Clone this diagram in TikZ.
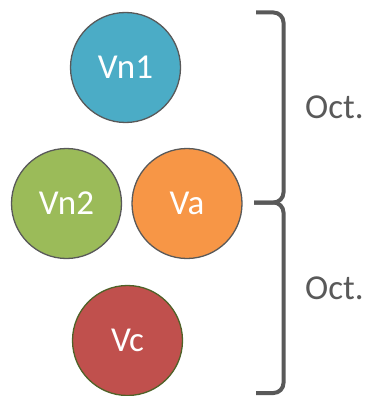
\documentclass[tikz,border=0pt]{standalone}
\usepackage{fontspec}
\setmainfont{Carlito}
\definecolor{cblue}{HTML}{4BACC6}
\definecolor{cgreen}{HTML}{9BBB59}
\definecolor{corange}{HTML}{F79646}
\definecolor{cred}{HTML}{C0504D}
\definecolor{bordergray}{HTML}{595959}
\definecolor{redborder}{HTML}{4F6228}
\definecolor{textgray}{HTML}{595959}
\begin{document}
\begin{tikzpicture}[x=1pt,y=1pt,
  ball/.style={circle,draw=bordergray,line width=1.3pt,minimum size=110pt,inner sep=0pt,text=white,font=\fontsize{35}{40}\selectfont},
  bracket/.style={draw=bordergray,line width=4pt,rounded corners=10pt},
  lbl/.style={text=textgray,font=\fontsize{35}{40}\selectfont,anchor=west,inner sep=0pt}]
\useasboundingbox (0,0) rectangle (370,-396);
\node[ball,fill=cblue] (vn1) at (125.5,-67.5) {Vn1};
\node[ball,fill=cgreen] (vn2) at (66.5,-203.5) {Vn2};
\node[ball,fill=corange] (va) at (187,-203.5) {Va};
\node[ball,fill=cred,draw=redborder] (vc) at (127.5,-340.5) {Vc};
\coordinate (b1t) at (256,-12.5);
\coordinate (bm) at (254,-202.5);
\coordinate (b2b) at (256,-393);
\draw[bracket] (b1t) -- (283.5,-12.5) -- (283.5,-202.5) -- (bm);
\draw[bracket] (bm) -- (283.5,-202.5) -- (283.5,-393) -- (b2b);
\node[lbl] (oct1) at (305,-107) {Oct.};
\node[lbl] (oct2) at (305,-288) {Oct.};
\end{tikzpicture}
\end{document}
